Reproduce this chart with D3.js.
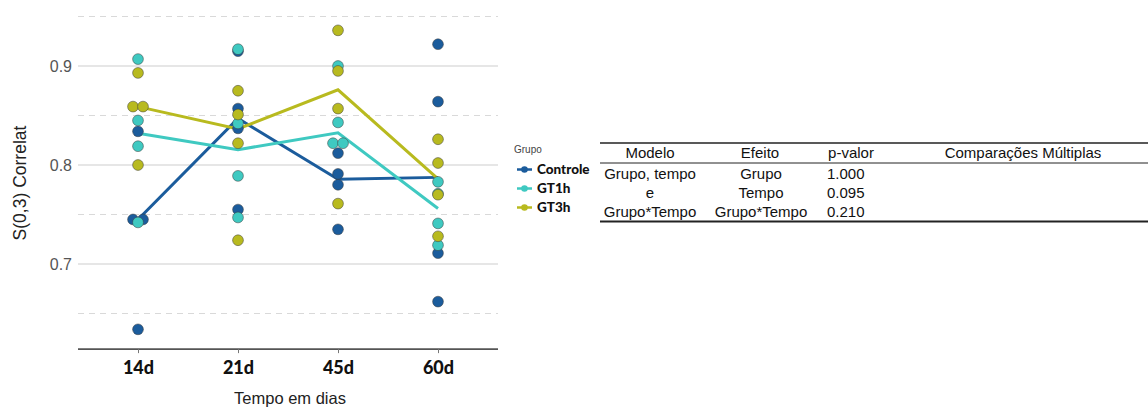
<!DOCTYPE html>
<html>
<head>
<meta charset="utf-8">
<script src="https://cdn.jsdelivr.net/npm/d3@7"></script>
<style>
  html, body { margin: 0; padding: 0; background: #fff; }
  svg { display: block; }
</style>
</head>
<body>
<script>
// Categories
const tempos = ["14d", "21d", "45d", "60d"];
const grupos = ["Controle", "GT1h", "GT3h"];

// Observed values per group, one array per time point
const controle = [[0.834, 0.745, 0.745, 0.634], [0.915, 0.857, 0.837, 0.755], [0.812, 0.791, 0.780, 0.735], [0.922, 0.864, 0.711, 0.662]];
const gt1h     = [[0.907, 0.845, 0.819, 0.742], [0.917, 0.842, 0.789, 0.747], [0.900, 0.843, 0.822, 0.822], [0.783, 0.771, 0.741, 0.719]];
const gt3h     = [[0.893, 0.859, 0.859, 0.800], [0.875, 0.851, 0.822, 0.724], [0.936, 0.895, 0.857, 0.761], [0.826, 0.802, 0.770, 0.728]];

// Axis ticks
const yMajor = [0.7, 0.8, 0.9];
const yMinor = [0.65, 0.75, 0.85, 0.95];

// Statistics table
const tableHeader = ["Modelo", "Efeito", "p-valor", "Comparações Múltiplas"];
const modeloLines = ["Grupo, tempo", "e", "Grupo*Tempo"];
const efeitos = ["Grupo", "Tempo", "Grupo*Tempo"];
const pValores = [1.000, 0.095, 0.210];

const colors = { Controle: "#1b5c9c", GT1h: "#3fc9c1", GT3h: "#b8ba1f" };
const seriesValues = { Controle: controle, GT1h: gt1h, GT3h: gt3h };

const W = 1148, H = 407;
const svg = d3.select("body").append("svg").attr("width", W).attr("height", H);
svg.append("rect").attr("width", W).attr("height", H).attr("fill", "#fff");

const x = d3.scalePoint().domain(tempos).range([78, 498]).padding(0.6);
const y = d3.scaleLinear().domain([0.7, 0.9]).range([264, 66]);
const axisY = y(0.614);

// Grid
const grid = svg.append("g");
grid.selectAll("line.minor").data(yMinor).join("line")
  .attr("x1", 78).attr("x2", 498)
  .attr("y1", d => y(d)).attr("y2", d => y(d))
  .attr("stroke", "#d9d9d9").attr("stroke-width", 1.1).attr("stroke-dasharray", "6,5");
grid.selectAll("line.major").data(yMajor).join("line")
  .attr("x1", 78).attr("x2", 498)
  .attr("y1", d => y(d)).attr("y2", d => y(d))
  .attr("stroke", "#dedede").attr("stroke-width", 1.3);

// Y axis labels (no axis line)
const yAxis = d3.axisLeft(y).tickValues(yMajor).tickFormat(d3.format(".1f")).tickSize(0).tickPadding(6);
const gy = svg.append("g").attr("transform", "translate(78,0)").call(yAxis);
gy.select(".domain").remove();
gy.selectAll("text").attr("fill", "#555").style("font-family", "'Liberation Sans', Arial, sans-serif").style("font-size", "16px");

// X axis
const xAxis = d3.axisBottom(x).tickSize(4).tickPadding(8);
const gx = svg.append("g").attr("transform", `translate(0,${axisY})`).call(xAxis);
gx.select(".domain").attr("d", "M78,0H498").attr("stroke", "#555").attr("stroke-width", 1.6);
gx.selectAll(".tick line").attr("stroke", "#777");
gx.selectAll("text").attr("fill", "#111").style("font-family", "Lato, sans-serif")
  .style("font-weight", "900").style("font-size", "18px");

// Axis titles
svg.append("text").attr("x", 290).attr("y", 404).attr("text-anchor", "middle")
  .style("font-family", "'Liberation Sans', Arial, sans-serif").style("font-size", "16.5px").attr("fill", "#222")
  .text("Tempo em dias");
svg.append("text").attr("transform", "translate(26,183) rotate(-90)").attr("text-anchor", "middle")
  .style("font-family", "'Liberation Sans', Arial, sans-serif").style("font-size", "17.5px").attr("fill", "#222")
  .text("S(0,3) Correlat");

// Median lines per group
const line = d3.line().x(d => x(d.t)).y(d => y(d.v));
grupos.forEach(g => {
  const med = tempos.map((t, i) => ({ t, v: d3.median(seriesValues[g][i]) }));
  svg.append("path").datum(med).attr("d", line)
    .attr("fill", "none").attr("stroke", colors[g]).attr("stroke-width", 3).attr("stroke-linejoin", "miter");
});

// Points, tied values within a group are spread side by side
grupos.forEach(g => {
  const pts = [];
  tempos.forEach((t, i) => {
    const vals = seriesValues[g][i];
    const counts = d3.rollup(vals, v => v.length, v => v);
    const seen = new Map();
    vals.forEach(v => {
      const n = counts.get(v);
      const k = seen.get(v) || 0;
      seen.set(v, k + 1);
      const off = n > 1 ? (k - (n - 1) / 2) * 10 : 0;
      pts.push({ t, v, off });
    });
  });
  svg.append("g").selectAll("circle").data(pts).join("circle")
    .attr("cx", d => x(d.t) + d.off).attr("cy", d => y(d.v)).attr("r", 5.4)
    .attr("fill", colors[g]).attr("stroke", "#3a3a3a").attr("stroke-opacity", 0.55).attr("stroke-width", 0.9);
});

// Legend
const leg = svg.append("g");
leg.append("text").attr("x", 514).attr("y", 153).text("Grupo")
  .style("font-family", "'Liberation Sans', Arial, sans-serif").style("font-size", "10px").attr("fill", "#444");
grupos.forEach((g, i) => {
  const cy = 169.5 + i * 19;
  leg.append("line").attr("x1", 517).attr("x2", 532).attr("y1", cy).attr("y2", cy)
    .attr("stroke", colors[g]).attr("stroke-width", 2.5);
  leg.append("circle").attr("cx", 524.5).attr("cy", cy).attr("r", 3.3).attr("fill", colors[g]);
  leg.append("text").attr("x", 537).attr("y", cy + 4.5).text(g)
    .style("font-family", "Lato, sans-serif").style("font-weight", "900").style("font-size", "13.5px").attr("fill", "#111");
});

// Table
const tbl = svg.append("g").style("font-family", "'Liberation Sans', Arial, sans-serif").style("font-size", "15px").attr("fill", "#111");
tbl.append("line").attr("x1", 600).attr("x2", 1148).attr("y1", 143).attr("y2", 143).attr("stroke", "#222").attr("stroke-width", 1.6);
tbl.append("line").attr("x1", 600).attr("x2", 1148).attr("y1", 163).attr("y2", 163).attr("stroke", "#222").attr("stroke-width", 1);
tbl.append("line").attr("x1", 600).attr("x2", 1148).attr("y1", 221.5).attr("y2", 221.5).attr("stroke", "#222").attr("stroke-width", 2.2);

const headerX = [650, 760, 851, 1023];
tableHeader.forEach((h, i) => {
  tbl.append("text").attr("x", headerX[i]).attr("y", 158).attr("text-anchor", "middle").text(h);
});
const rowY = [179, 198, 217];
modeloLines.forEach((s, i) => {
  tbl.append("text").attr("x", 650).attr("y", rowY[i]).attr("text-anchor", "middle").text(s);
});
efeitos.forEach((s, i) => {
  tbl.append("text").attr("x", 761).attr("y", rowY[i]).attr("text-anchor", "middle").text(s);
});
pValores.forEach((p, i) => {
  tbl.append("text").attr("x", 827).attr("y", rowY[i]).attr("text-anchor", "start").text(d3.format(".3f")(p));
});
</script>
</body>
</html>
